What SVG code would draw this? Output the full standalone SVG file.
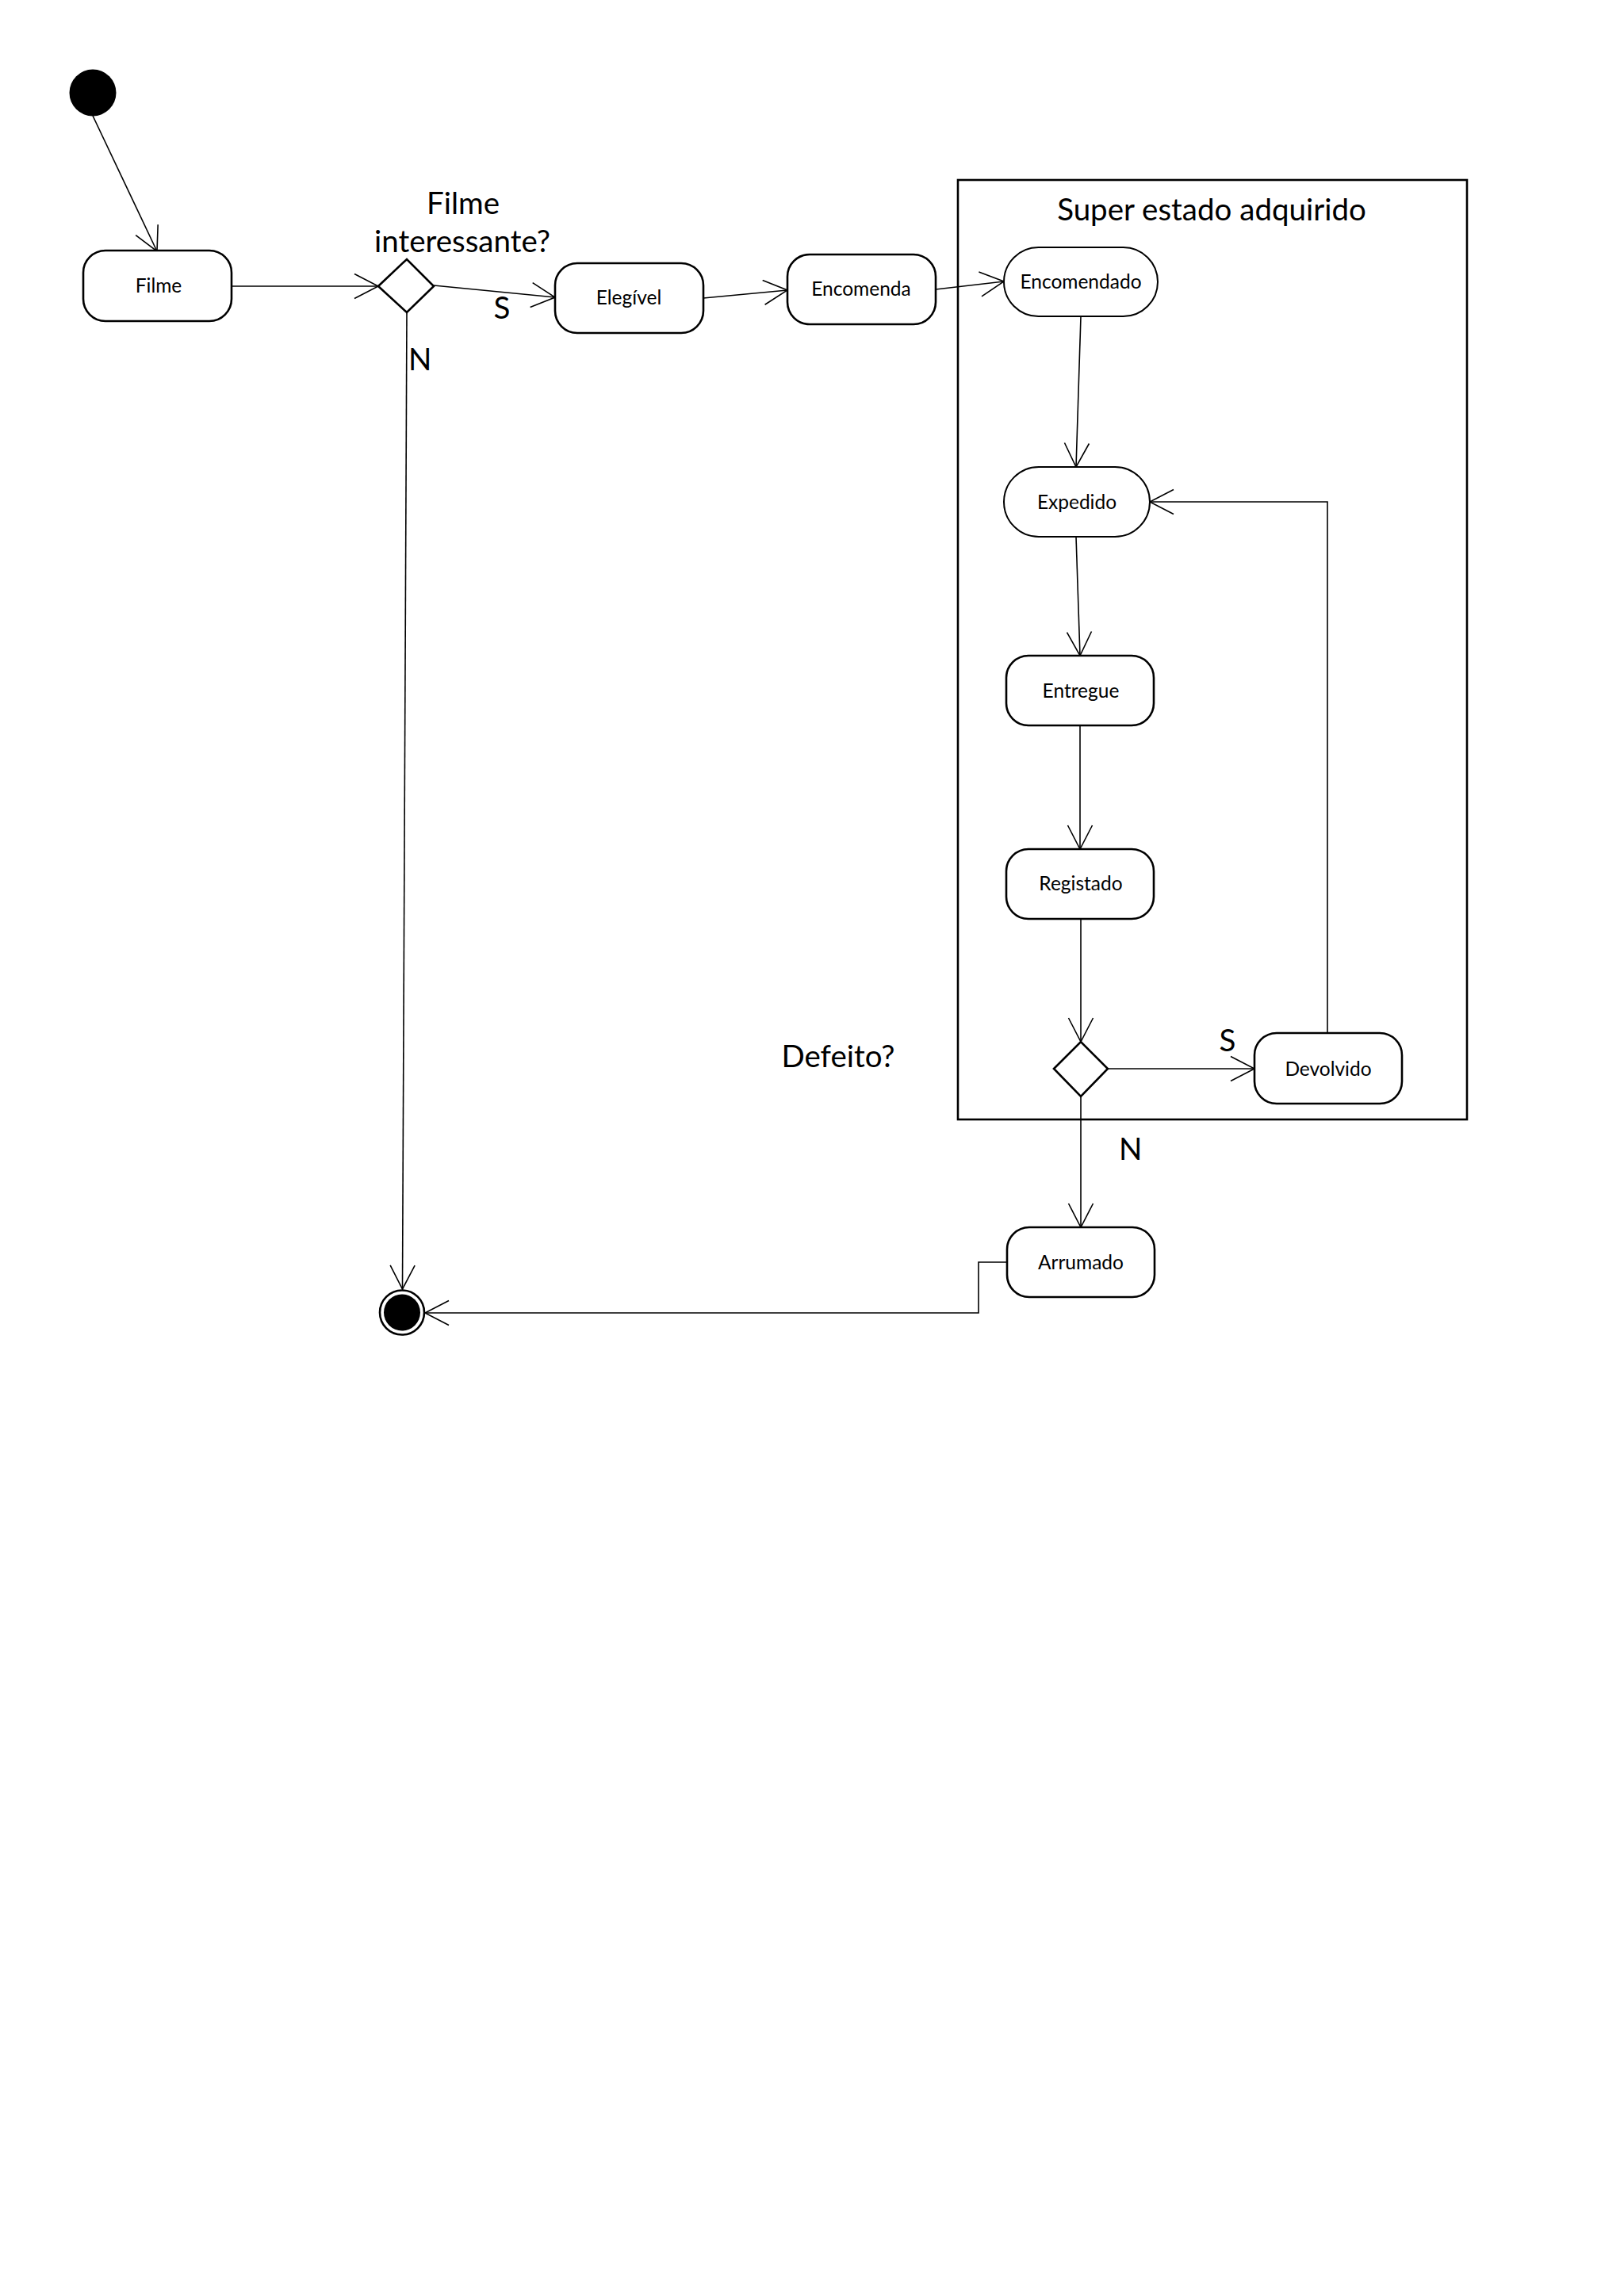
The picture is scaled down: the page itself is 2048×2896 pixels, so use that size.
<svg xmlns="http://www.w3.org/2000/svg" width="2048" height="2896" viewBox="0 0 2048 2896">
<defs>
<style>
.node{fill:#fff;stroke:#000;stroke-width:2.6}
.thin{fill:#fff;stroke:#000;stroke-width:2}
.lbl{font-family:Lato,"Open Sans","Liberation Sans",sans-serif;font-size:24.5px;fill:#000;text-anchor:middle}
.big{font-family:Lato,"Open Sans","Liberation Sans",sans-serif;font-size:38.5px;fill:#000}
.c{fill:none;stroke:#000;stroke-width:1.6;marker-end:url(#arr)}
</style>
<marker id="arr" markerUnits="userSpaceOnUse" viewBox="0 0 32 32" refX="30" refY="16" markerWidth="32" markerHeight="32" orient="auto" overflow="visible">
<path d="M0,0.5 L30,16 L0,31.5" fill="none" stroke="#000" stroke-width="1.6"/>
</marker>
</defs>
<rect width="2048" height="2896" fill="#fff"/>

<g id="superestado">
<rect x="1208" y="227" width="642" height="1185" fill="none" stroke="#000" stroke-width="2.6"/>
<text class="big" x="1528" y="278" text-anchor="middle">Super estado adquirido</text>
</g>

<g id="connectors">
<line class="c" x1="117" y1="146" x2="198" y2="317"/>
<line class="c" x1="292" y1="361" x2="477" y2="361"/>
<line class="c" x1="547" y1="360" x2="700" y2="375"/>
<line class="c" x1="887" y1="376" x2="993" y2="366"/>
<line class="c" x1="1180" y1="365" x2="1266" y2="355"/>
<line class="c" x1="1363" y1="399" x2="1357" y2="589"/>
<line class="c" x1="1357" y1="677" x2="1362" y2="827"/>
<line class="c" x1="1362" y1="915" x2="1362" y2="1071"/>
<line class="c" x1="1363" y1="1159" x2="1363" y2="1314"/>
<line class="c" x1="1397" y1="1348" x2="1582" y2="1348"/>
<polyline class="c" points="1674,1303 1674,633 1450,633"/>
<line class="c" x1="1363" y1="1383" x2="1363" y2="1548"/>
<polyline class="c" points="1270,1592 1234,1592 1234,1656 536,1656"/>
<line class="c" x1="513" y1="394" x2="507.5" y2="1626"/>
</g>

<g id="inicio">
<circle cx="117" cy="117" r="29.5" fill="#000"/>
</g>

<g id="filme">
<rect class="node" x="105" y="316" width="187" height="89" rx="28"/>
<text class="lbl" x="200" y="369">Filme</text>
</g>

<g id="decisao1">
<polygon class="node" points="477,361 513,327 547,361 513,394"/>
<text class="big" x="584" y="270" text-anchor="middle">Filme</text>
<text class="big" x="583" y="318" text-anchor="middle">interessante?</text>
<text class="big" x="633" y="402" text-anchor="middle">S</text>
<text class="big" x="515" y="467">N</text>
</g>

<g id="elegivel">
<rect class="node" x="700" y="332" width="187" height="88" rx="28"/>
<text class="lbl" x="793" y="384">Elegível</text>
</g>

<g id="encomenda">
<rect class="node" x="993" y="321" width="187" height="88" rx="28"/>
<text class="lbl" x="1086" y="373">Encomenda</text>
</g>

<g id="encomendado">
<rect class="thin" x="1266" y="312" width="194" height="87" rx="43.5"/>
<text class="lbl" x="1363" y="364">Encomendado</text>
</g>

<g id="expedido">
<rect class="thin" x="1266" y="589" width="184" height="88" rx="44"/>
<text class="lbl" x="1358" y="642">Expedido</text>
</g>

<g id="entregue">
<rect class="node" x="1269" y="827" width="186" height="88" rx="28"/>
<text class="lbl" x="1363" y="880">Entregue</text>
</g>

<g id="registado">
<rect class="node" x="1269" y="1071" width="186" height="88" rx="28"/>
<text class="lbl" x="1363" y="1123">Registado</text>
</g>

<g id="decisao2">
<polygon class="node" points="1329,1348 1363,1314 1397,1348 1363,1383"/>
<text class="big" x="1548" y="1326" text-anchor="middle">S</text>
<text class="big" x="1411" y="1463">N</text>
<text class="big" x="1057" y="1346" text-anchor="middle">Defeito?</text>
</g>

<g id="devolvido">
<rect class="node" x="1582" y="1303" width="186" height="89" rx="28"/>
<text class="lbl" x="1675" y="1357">Devolvido</text>
</g>

<g id="arrumado">
<rect class="node" x="1270" y="1548" width="186" height="88" rx="28"/>
<text class="lbl" x="1363" y="1601">Arrumado</text>
</g>

<g id="fim">
<circle cx="507" cy="1655.5" r="28" fill="#fff" stroke="#000" stroke-width="2.6"/>
<circle cx="507" cy="1655.5" r="23" fill="#000"/>
</g>
</svg>
